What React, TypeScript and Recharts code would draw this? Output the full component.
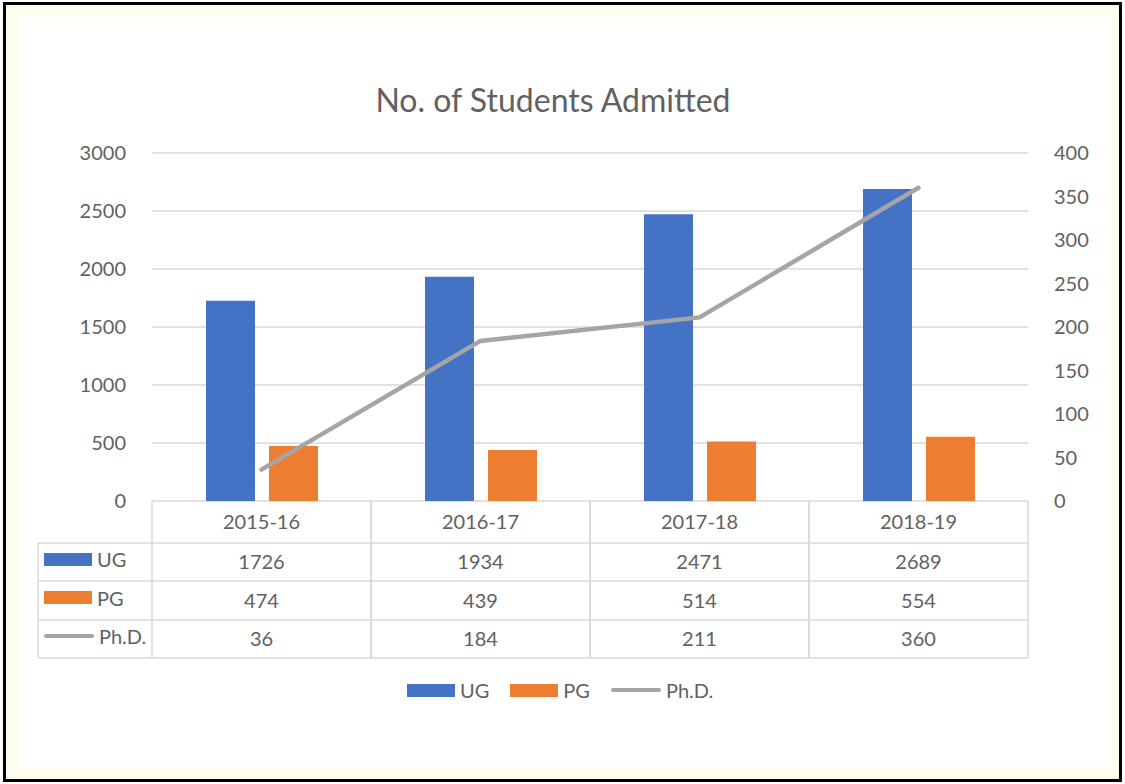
import React from 'react';
import { ComposedChart, Bar, Line, XAxis, YAxis, CartesianGrid } from 'recharts';

const years = ['2015-16', '2016-17', '2017-18', '2018-19'];
const ugValues = [1726, 1934, 2471, 2689];
const pgValues = [474, 439, 514, 554];
const phdValues = [36, 184, 211, 360];
const leftTicks = [0, 500, 1000, 1500, 2000, 2500, 3000];
const rightTicks = [0, 50, 100, 150, 200, 250, 300, 350, 400];

const series = [
  { key: 'UG', label: 'UG', color: '#4472c4', values: ugValues, type: 'bar' },
  { key: 'PG', label: 'PG', color: '#ed7d31', values: pgValues, type: 'bar' },
  { key: 'PhD', label: 'Ph.D.', color: '#a5a5a5', values: phdValues, type: 'line' },
];

const data = years.map((y, i) => ({ year: y, UG: ugValues[i], PG: pgValues[i], PhD: phdValues[i] }));

const FONT = 'Lato, "Open Sans", sans-serif';
const TEXT = '#616161';
const GRID = '#d9d9d9';

// plot frame
const PLOT_LEFT = 152;
const PLOT_RIGHT = 1028;
const PLOT_TOP = 153;
const PLOT_BOTTOM = 501;
const BAND = (PLOT_RIGHT - PLOT_LEFT) / years.length;
const ROW_Y = [501, 543, 581, 620, 658];

const Swatch = ({ s }: { s: typeof series[number] }) =>
  s.type === 'bar' ? (
    <div style={{ width: 48, height: 13, background: s.color }} />
  ) : (
    <div style={{ width: 50, height: 4, borderRadius: 2, background: s.color }} />
  );

const TableTick = (props: any) => {
  const { x, payload } = props;
  const i = payload.index;
  const l = x - BAND / 2;
  const r = x + BAND / 2;
  return (
    <g>
      <line x1={l} x2={l} y1={ROW_Y[0]} y2={ROW_Y[4]} stroke={GRID} strokeWidth={1.5} />
      <line x1={r} x2={r} y1={ROW_Y[0]} y2={ROW_Y[4]} stroke={GRID} strokeWidth={1.5} />
      {ROW_Y.slice(1).map((yy) => (
        <line key={yy} x1={l} x2={r} y1={yy} y2={yy} stroke={GRID} strokeWidth={1.5} />
      ))}
      <text x={x} y={(ROW_Y[0] + ROW_Y[1]) / 2 + 7} textAnchor="middle" fill={TEXT} fontSize={20} fontFamily={FONT}>
        {payload.value}
      </text>
      {series.map((s, k) => (
        <text
          key={s.key}
          x={x}
          y={(ROW_Y[k + 1] + ROW_Y[k + 2]) / 2 + 7}
          textAnchor="middle"
          fill={TEXT}
          fontSize={20}
          fontFamily={FONT}
        >
          {s.values[i]}
        </text>
      ))}
    </g>
  );
};

export default function App() {
  return (
    <div style={{ position: 'absolute', left: 0, top: 0, width: 1125, height: 784, background: '#fff', fontFamily: FONT }}>
      <div
        style={{
          position: 'absolute', left: 3, top: 2, width: 1119, height: 780,
          border: '3px solid #000', boxSizing: 'border-box', background: '#fefcee',
        }}
      />
      <div style={{ position: 'absolute', left: 19, top: 17, width: 1093, height: 750, background: '#fff' }} />
      <div
        style={{
          position: 'absolute', left: 0, width: 1106, top: 81, textAlign: 'center',
          fontSize: 32, color: TEXT, lineHeight: '38px',
        }}
      >
        No. of Students Admitted
      </div>

      <div style={{ position: 'absolute', left: 0, top: 0 }}>
        <ComposedChart
          width={1125}
          height={784}
          data={data}
          margin={{ top: PLOT_TOP, bottom: 784 - ROW_Y[4], left: 0, right: 0 }}
          barGap={14}
          barSize={49}
        >
          <CartesianGrid vertical={false} stroke={GRID} strokeWidth={1.5} yAxisId="left" />
          <XAxis
            dataKey="year"
            axisLine={false}
            tickLine={false}
            height={ROW_Y[4] - PLOT_BOTTOM}
            interval={0}
            tick={<TableTick />}
          />
          <YAxis
            yAxisId="left"
            width={PLOT_LEFT}
            domain={[0, 3000]}
            ticks={leftTicks}
            axisLine={false}
            tickLine={false}
            tickMargin={20}
            tick={{ fill: TEXT, fontSize: 20, fontFamily: FONT }}
          />
          <YAxis
            yAxisId="right"
            orientation="right"
            width={1125 - PLOT_RIGHT}
            domain={[0, 400]}
            ticks={rightTicks}
            axisLine={false}
            tickLine={false}
            tickMargin={20}
            tick={{ fill: TEXT, fontSize: 20, fontFamily: FONT, textAnchor: 'start' }}
          />
          <Bar yAxisId="left" dataKey="UG" fill="#4472c4" isAnimationActive={false} />
          <Bar yAxisId="left" dataKey="PG" fill="#ed7d31" isAnimationActive={false} />
          <Line
            yAxisId="right"
            dataKey="PhD"
            stroke="#a5a5a5"
            strokeWidth={4.5}
            dot={false}
            strokeLinecap="round"
            isAnimationActive={false}
          />
        </ComposedChart>
      </div>

      {/* row headers of the data table */}
      <svg style={{ position: 'absolute', left: 0, top: 0 }} width={200} height={784}>
        <line x1={38} x2={38} y1={ROW_Y[1]} y2={ROW_Y[4]} stroke={GRID} strokeWidth={1.5} />
        {ROW_Y.slice(1).map((yy) => (
          <line key={yy} x1={38} x2={PLOT_LEFT} y1={yy} y2={yy} stroke={GRID} strokeWidth={1.5} />
        ))}
      </svg>
      {series.map((s, k) => (
        <div
          key={s.key}
          style={{
            position: 'absolute', left: 44, top: ROW_Y[k + 1], height: ROW_Y[k + 2] - ROW_Y[k + 1] - 6,
            display: 'flex', alignItems: 'center', gap: 5, fontSize: 20, color: TEXT,
          }}
        >
          <Swatch s={s} />
          <span>{s.label}</span>
        </div>
      ))}

      {/* legend */}
      <div
        style={{
          position: 'absolute', left: 407, top: 676, height: 28,
          display: 'flex', alignItems: 'center', fontSize: 20, color: TEXT,
        }}
      >
        {series.map((s) => (
          <div key={s.key} style={{ display: 'flex', alignItems: 'center', gap: 5, marginRight: 21 }}>
            <Swatch s={s} />
            <span>{s.label}</span>
          </div>
        ))}
      </div>
    </div>
  );
}
